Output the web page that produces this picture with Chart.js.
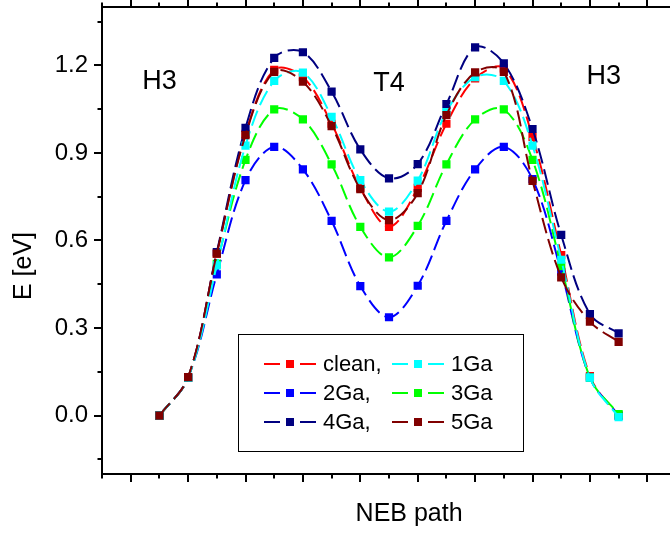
<!DOCTYPE html>
<html><head><meta charset="utf-8">
<script src="https://cdn.jsdelivr.net/npm/chart.js@4.4.0/dist/chart.umd.min.js"></script>
<style>
html,body{margin:0;padding:0;overflow:hidden;background:#fff;width:670px;height:538px;}
#wrap{position:absolute;left:0;top:0;width:722px;height:538px;}
</style></head><body>
<div id="wrap"><canvas id="c" width="722" height="538"></canvas></div>
<script>
// ---- data ----
const pathIndex = [1, 2, 3, 4, 5, 6, 7, 8, 9, 10, 11, 12, 13, 14, 15, 16, 17];
const clean = [0, 0.13, 0.555, 0.965, 1.185, 1.16, 1.0, 0.78, 0.647, 0.78, 1.0, 1.155, 1.19, 0.955, 0.55, 0.135, 0];
const ga1 = [0, 0.13, 0.515, 0.925, 1.147, 1.175, 1.024, 0.807, 0.699, 0.805, 1.04, 1.16, 1.147, 0.925, 0.534, 0.13, -0.005];
const ga2 = [0, 0.13, 0.484, 0.807, 0.921, 0.844, 0.667, 0.444, 0.337, 0.445, 0.667, 0.844, 0.921, 0.81, 0.493, 0.13, 0];
const ga3 = [0, 0.13, 0.52, 0.876, 1.049, 1.015, 0.861, 0.647, 0.542, 0.65, 0.861, 1.015, 1.049, 0.876, 0.512, 0.13, 0.005];
const ga4 = [0, 0.13, 0.56, 0.986, 1.226, 1.245, 1.11, 0.912, 0.813, 0.862, 1.067, 1.262, 1.207, 0.982, 0.619, 0.348, 0.282];
const ga5 = [0, 0.132, 0.555, 0.961, 1.178, 1.144, 0.992, 0.776, 0.67, 0.762, 1.03, 1.176, 1.178, 0.804, 0.474, 0.322, 0.253];
const seriesNames = ['clean,', '1Ga', '2Ga,', '3Ga', '4Ga,', '5Ga'];
const seriesColors = ['#ff0000', '#00ffff', '#0000ff', '#00ff00', '#000080', '#800000'];
const seriesValues = [clean, ga1, ga2, ga3, ga4, ga5];
const drawOrder = [6, 2, 5, 4, 3, 1];
const yTickValues = [0.0, 0.3, 0.6, 0.9, 1.2];
const yMinorTickValues = [-0.15, 0.15, 0.45, 0.75, 1.05, 1.35];
const xMajorTickValues = [0, 2, 4, 6, 8, 10, 12, 14, 16, 18, 20];
const xMinorTickValues = [-1, 1, 3, 5, 7, 9, 11, 13, 15, 17, 19];
const siteLabels = ['H3', 'T4', 'H3'];
const siteX = [1, 9, 16.48];
const siteY = [1.143, 1.138, 1.163];
const yTitle = 'E [eV]';

const FONT = '"Liberation Sans", Arial, sans-serif';

const datasets = seriesValues.map((vals, k) => ({
  label: seriesNames[k],
  data: vals.map((v, i) => ({x: pathIndex[i], y: v})),
  borderColor: seriesColors[k],
  backgroundColor: seriesColors[k],
  borderWidth: 2,
  borderDash: [16, 6],
  tension: 0.35,
  pointStyle: 'rect',
  pointRadius: 5.8,
  pointBorderWidth: 0,
  pointBackgroundColor: seriesColors[k],
  fill: false,
  order: drawOrder[k]
}));

const framePlugin = {
  id: 'frame',
  afterDraw(chart) {
    const ctx = chart.ctx;
    const a = chart.chartArea;
    const xs = chart.scales.x, ys = chart.scales.y;
    ctx.save();
    ctx.strokeStyle = '#000';
    ctx.lineWidth = 2;
    ctx.setLineDash([]);
    ctx.strokeRect(a.left, a.top, a.right - a.left, a.bottom - a.top);
    ctx.beginPath();
    xMajorTickValues.forEach(v => {
      const p = Math.round(xs.getPixelForValue(v));
      ctx.moveTo(p, a.bottom); ctx.lineTo(p, a.bottom + 8);
      ctx.moveTo(p, a.top); ctx.lineTo(p, a.top - 8);
    });
    xMinorTickValues.forEach(v => {
      const p = Math.round(xs.getPixelForValue(v));
      ctx.moveTo(p, a.bottom); ctx.lineTo(p, a.bottom + 4.5);
      ctx.moveTo(p, a.top); ctx.lineTo(p, a.top - 4.5);
    });
    yTickValues.forEach(v => {
      const p = Math.round(ys.getPixelForValue(v));
      ctx.moveTo(a.left, p); ctx.lineTo(a.left - 8, p);
    });
    yMinorTickValues.forEach(v => {
      const p = Math.round(ys.getPixelForValue(v));
      ctx.moveTo(a.left, p); ctx.lineTo(a.left - 4.5, p);
    });
    ctx.stroke();

    ctx.fillStyle = '#000';
    ctx.font = '27px ' + FONT;
    ctx.textAlign = 'center';
    ctx.textBaseline = 'middle';
    siteLabels.forEach((t, i) => {
      ctx.fillText(t, xs.getPixelForValue(siteX[i]), ys.getPixelForValue(siteY[i]));
    });

    // y axis title
    ctx.save();
    ctx.font = '25px ' + FONT;
    ctx.translate(24, 266);
    ctx.rotate(-Math.PI / 2);
    ctx.fillText(yTitle, 0, 0);
    ctx.restore();

    const bx = 238, by = 334, bw = 285, bh = 117;
    ctx.fillStyle = '#fff';
    ctx.fillRect(bx, by, bw, bh);
    ctx.lineWidth = 1;
    ctx.strokeStyle = '#000';
    ctx.strokeRect(bx + 0.5, by + 0.5, bw, bh);
    const rows = [364, 393, 422];
    const cols = [264, 392];
    ctx.font = '22px ' + FONT;
    ctx.textAlign = 'left';
    for (let k = 0; k < 6; k++) {
      const col = k % 2, row = Math.floor(k / 2);
      const x0 = cols[col], y0 = rows[row];
      ctx.strokeStyle = seriesColors[k];
      ctx.lineWidth = 2;
      ctx.beginPath();
      ctx.moveTo(x0, y0); ctx.lineTo(x0 + 16, y0);
      ctx.moveTo(x0 + 36, y0); ctx.lineTo(x0 + 52, y0);
      ctx.stroke();
      ctx.fillStyle = seriesColors[k];
      ctx.fillRect(x0 + 22, y0 - 4, 8, 8);
      ctx.fillStyle = '#000';
      ctx.fillText(seriesNames[k], x0 + 59, y0 + 1);
    }
    ctx.restore();
  }
};

new Chart(document.getElementById('c').getContext('2d'), {
  type: 'line',
  data: {datasets},
  options: {
    responsive: false,
    animation: false,
    devicePixelRatio: 1,
    layout: {padding: {top: 7, right: 5, left: 0, bottom: 0}},
    plugins: {legend: {display: false}, tooltip: {enabled: false}},
    scales: {
      x: {
        type: 'linear', min: -1, max: 20.4, position: 'bottom',
        ticks: {display: false},
        grid: {display: false, drawTicks: false},
        border: {display: false},
        title: {display: true, text: 'NEB path', color: '#000',
                font: {family: FONT, size: 25}, padding: {top: 0, bottom: 9}},
        afterFit: s => { s.height = 64; s.paddingLeft = 0; s.paddingRight = 0; }
      },
      y: {
        type: 'linear', min: -0.2, max: 1.4, position: 'left',
        afterBuildTicks: s => { s.ticks = yTickValues.map(v => ({value: v})); },
        ticks: {callback: v => Number(v).toFixed(1), color: '#000',
                font: {family: FONT, size: 24}, padding: 14},
        grid: {display: false, drawTicks: false},
        border: {display: false},
        title: {display: false},
        afterFit: s => { s.width = 102; s.paddingTop = 0; s.paddingBottom = 0; }
      }
    }
  },
  plugins: [framePlugin]
});
</script>
</body></html>
